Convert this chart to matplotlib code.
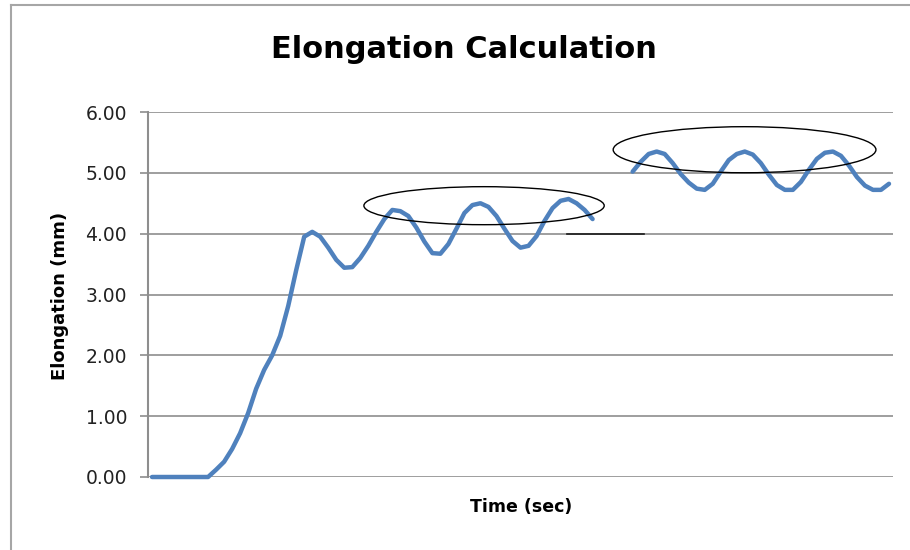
import numpy as np
import matplotlib
matplotlib.use("Agg")
import matplotlib.pyplot as plt
from matplotlib.patches import Ellipse
from matplotlib.lines import Line2D

# Elongation readings (mm), one per sample; None marks samples that were not logged
elongation_mm = [
    0.00, 0.00, 0.00, 0.00, 0.00, 0.00, 0.00, 0.00, 0.12, 0.25,
    0.46, 0.72, 1.05, 1.45, 1.76, 2.00, 2.32, 2.81, 3.40, 3.95,
    4.03, 3.95, 3.77, 3.57, 3.44, 3.45, 3.60, 3.80, 4.03, 4.24,
    4.39, 4.37, 4.29, 4.10, 3.87, 3.68, 3.67, 3.83, 4.08, 4.34,
    4.47, 4.50, 4.44, 4.29, 4.08, 3.88, 3.77, 3.80, 3.96, 4.21,
    4.42, 4.54, 4.57, 4.50, 4.39, 4.24, None, None, None, None,
    5.02, 5.18, 5.31, 5.35, 5.31, 5.16, 4.98, 4.84, 4.74, 4.72,
    4.82, 5.02, 5.21, 5.31, 5.35, 5.30, 5.16, 4.97, 4.80, 4.72,
    4.72, 4.85, 5.05, 5.23, 5.33, 5.35, 5.28, 5.12, 4.93, 4.79,
    4.72, 4.72, 4.82,
]
y_ticks = [0, 1, 2, 3, 4, 5, 6]
y_tick_labels = ["0.00", "1.00", "2.00", "3.00", "4.00", "5.00", "6.00"]

title_text = "Elongation Calculation"
x_label = "Time (sec)"
y_label = "Elongation (mm)"

values = np.array([np.nan if v is None else v for v in elongation_mm], dtype=float)
sample = np.arange(len(values))

plt.rcParams["font.family"] = ["DejaVu Sans"]

fig = plt.figure(figsize=(9.1, 5.5), dpi=100)
ax = fig.add_axes([148 / 910, 73 / 550, 745 / 910, 365 / 550])

grid_color = "#8e8e8e"
ax.set_xlim(-0.5, len(values) - 0.5)
ax.set_ylim(0, 6)
ax.set_yticks(y_ticks)
ax.set_yticklabels(y_tick_labels)
ax.set_xticks([])
ax.yaxis.grid(True, color=grid_color, linewidth=1.2)
ax.set_axisbelow(True)
for side in ("top", "right", "bottom"):
    ax.spines[side].set_visible(False)
ax.spines["left"].set_color(grid_color)
ax.spines["left"].set_linewidth(1.5)
ax.tick_params(axis="y", length=6, width=1.2, color=grid_color,
               pad=9, labelsize=13.5, labelcolor="#222222")

ax.plot(sample, values, color="#4F81BD", linewidth=3.2,
        solid_capstyle="round", solid_joinstyle="round", clip_on=False, zorder=3)

# Highlight the steady oscillation bands
ax.add_patch(Ellipse((41.45, 4.46), 30.0, 0.625, fill=False,
                     edgecolor="black", linewidth=1.0, zorder=4))
ax.add_patch(Ellipse((73.97, 5.38), 32.8, 0.757, fill=False,
                     edgecolor="black", linewidth=1.0, zorder=4))
ax.plot([51.8, 61.4], [4.0, 4.0], color="#1a1a1a", linewidth=1.2, zorder=2)

fig.text(464 / 910, 1 - 58 / 550, title_text, ha="center", va="baseline",
         fontsize=22, fontweight="bold", color="black")
fig.text(521 / 910, 1 - 507 / 550, x_label, ha="center", va="center",
         fontsize=12.5, fontweight="bold", color="black")
fig.text(60 / 910, 1 - 296 / 550, y_label, ha="center", va="center",
         rotation=90, fontsize=13, fontweight="bold", color="black")

# Chart-area border (left and top edges)
border = "#a6a6a6"
fig.add_artist(Line2D([11 / 910, 11 / 910], [0, 1 - 5 / 550],
                      transform=fig.transFigure, color=border, linewidth=1.5))
fig.add_artist(Line2D([11 / 910, 1], [1 - 5 / 550, 1 - 5 / 550],
                      transform=fig.transFigure, color=border, linewidth=1.5))

fig.savefig("out.png", dpi=100, facecolor="white")
